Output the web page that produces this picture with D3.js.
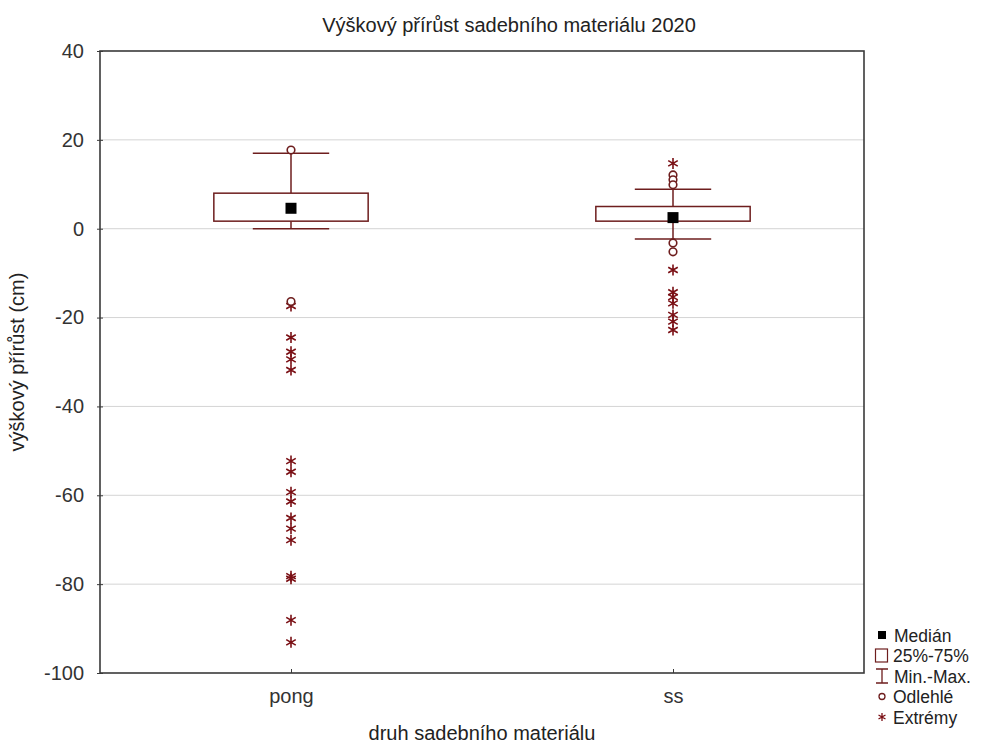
<!DOCTYPE html>
<html><head><meta charset="utf-8">
<script src="https://cdn.jsdelivr.net/npm/d3@7"></script>
<style>body{margin:0;background:#fff}svg{font-family:"Liberation Sans",Arial,sans-serif}</style>
</head><body><svg id="c" width="988" height="744"></svg>
<script>
const categories = ["pong", "ss"];
const medians = [4.6, 2.5];
const q1 = [1.7, 1.7];
const q3 = [8.0, 5.0];
const mins = [0.0, -2.3];
const maxs = [17.0, 8.9];
const outliers = [[17.7, -16.4], [12.1, 11.0, 9.9, -3.2, -5.2]];
const extremes = [
  [-17.4, -24.5, -27.7, -29.4, -31.8, -52.3, -54.7, -59.3, -61.4, -65.1, -67.5, -70.1, -78.2, -78.8, -88.1, -93.1],
  [14.7, -9.3, -14.3, -15.4, -16.8, -19.4, -20.9, -22.8]
];
const yTicks = [40, 20, 0, -20, -40, -60, -80, -100];
const legendLabels = ["Medián", "25%-75%", "Min.-Max.", "Odlehlé", "Extrémy"];

const FF = "Liberation Sans, Arial, sans-serif";
const FS = 20;
const svg = d3.select("#c");
const L = 100, R = 864, T = 51, B = 673;
const dark = "#6e1e1e", astCol = "#7a0f14", axisCol = "#3a3a3a", txt = "#333";
const x = d3.scalePoint().domain(categories).range([L, R]).padding(0.5);
const y = d3.scaleLinear().domain([-100, 40]).range([B, T]);
const step = x.step();

// grid
svg.append("g").selectAll("line").data(yTicks.filter(t => t > -100 && t < 40)).join("line")
  .attr("x1", L).attr("x2", R).attr("y1", d => y(d)).attr("y2", d => y(d))
  .attr("stroke", "#d4d4d4").attr("stroke-width", 1);

// axes
const ya = svg.append("g").attr("transform", `translate(${L},0)`)
  .call(d3.axisLeft(y).tickValues(yTicks).tickSize(4).tickPadding(12).tickFormat(d => String(d)));
ya.select(".domain").remove();
ya.selectAll("line").attr("stroke", axisCol).attr("x2", 3).attr("x1", -3);
ya.selectAll("text").attr("font-size", FS).attr("fill", txt).attr("font-family", FF);
const xa = svg.append("g").attr("transform", `translate(0,${B})`)
  .call(d3.axisBottom(x).tickSize(4).tickPadding(12));
xa.select(".domain").remove();
xa.selectAll("line").attr("stroke", axisCol).attr("y1", -4).attr("y2", 0);
xa.selectAll("text").attr("font-size", FS).attr("fill", txt).attr("font-family", FF);

// frame
svg.append("rect").attr("x", L).attr("y", T).attr("width", R - L).attr("height", B - T)
  .attr("fill", "none").attr("stroke", axisCol).attr("stroke-width", 1.6);

const bw = step * 0.404, cw = step * 0.2;
const ast = d3.symbol().type(d3.symbolAsterisk).size(85);
categories.forEach((c, i) => {
  const cx = x(c);
  const g = svg.append("g");
  g.append("line").attr("x1", cx).attr("x2", cx).attr("y1", y(maxs[i])).attr("y2", y(q3[i])).attr("stroke", dark).attr("stroke-width", 1.5);
  g.append("line").attr("x1", cx).attr("x2", cx).attr("y1", y(q1[i])).attr("y2", y(mins[i])).attr("stroke", dark).attr("stroke-width", 1.5);
  g.append("line").attr("x1", cx - cw / 2).attr("x2", cx + cw / 2).attr("y1", y(maxs[i])).attr("y2", y(maxs[i])).attr("stroke", dark).attr("stroke-width", 1.5);
  g.append("line").attr("x1", cx - cw / 2).attr("x2", cx + cw / 2).attr("y1", y(mins[i])).attr("y2", y(mins[i])).attr("stroke", dark).attr("stroke-width", 1.5);
  g.append("rect").attr("x", cx - bw / 2).attr("width", bw).attr("y", y(q3[i])).attr("height", y(q1[i]) - y(q3[i]))
    .attr("fill", "#fff").attr("stroke", dark).attr("stroke-width", 1.5);
  g.append("rect").attr("x", cx - 5.5).attr("y", y(medians[i]) - 5.5).attr("width", 11).attr("height", 11).attr("fill", "#000");
  g.selectAll(".ex").data(extremes[i]).join("path").attr("class", "ex").attr("d", ast)
    .attr("transform", d => `translate(${cx},${y(d)})`).attr("stroke", astCol).attr("stroke-width", 1.6).attr("fill", "none");
  g.selectAll(".ol").data(outliers[i]).join("circle").attr("class", "ol")
    .attr("cx", cx).attr("cy", d => y(d)).attr("r", 3.8).attr("fill", "#fff").attr("stroke", dark).attr("stroke-width", 1.6);
});

// titles
svg.append("text").attr("x", 509).attr("y", 32).attr("text-anchor", "middle").attr("font-size", FS).attr("fill", "#222")
  .text("Výškový přírůst sadebního materiálu 2020");
svg.append("text").attr("x", (L + R) / 2).attr("y", 740).attr("text-anchor", "middle").attr("font-size", FS).attr("fill", "#222")
  .text("druh sadebního materiálu");
svg.append("text").attr("transform", `translate(24,${(T + B) / 2}) rotate(-90)`).attr("text-anchor", "middle").attr("font-size", FS).attr("fill", "#222")
  .text("výškový přírůst (cm)");

// legend
const ly = [635, 655.5, 676, 696.5, 717];
const LFS = 17.5;
const lg = svg.append("g").attr("font-size", LFS).attr("fill", "#222").attr("font-family", FF);
lg.append("rect").attr("x", 878).attr("y", ly[0] - 4).attr("width", 8).attr("height", 8).attr("fill", "#000");
lg.append("rect").attr("x", 875.5).attr("y", ly[1] - 6.5).attr("width", 12).attr("height", 13).attr("fill", "none").attr("stroke", dark).attr("stroke-width", 1.2);
lg.append("path").attr("d", `M876,${ly[2] - 7}H888M882,${ly[2] - 7}V${ly[2] + 7}M876,${ly[2] + 7}H888`).attr("stroke", dark).attr("stroke-width", 1.3).attr("fill", "none");
lg.append("circle").attr("cx", 882).attr("cy", ly[3]).attr("r", 3).attr("fill", "none").attr("stroke", dark).attr("stroke-width", 1.3);
lg.append("path").attr("d", d3.symbol().type(d3.symbolAsterisk).size(45)()).attr("transform", `translate(882,${ly[4]})`).attr("stroke", astCol).attr("stroke-width", 1.3).attr("fill", "none");
const lx = [894, 893, 894, 893, 893];
legendLabels.forEach((t, i) => lg.append("text").attr("x", lx[i]).attr("y", ly[i] + 6.5).text(t));
</script></body></html>
